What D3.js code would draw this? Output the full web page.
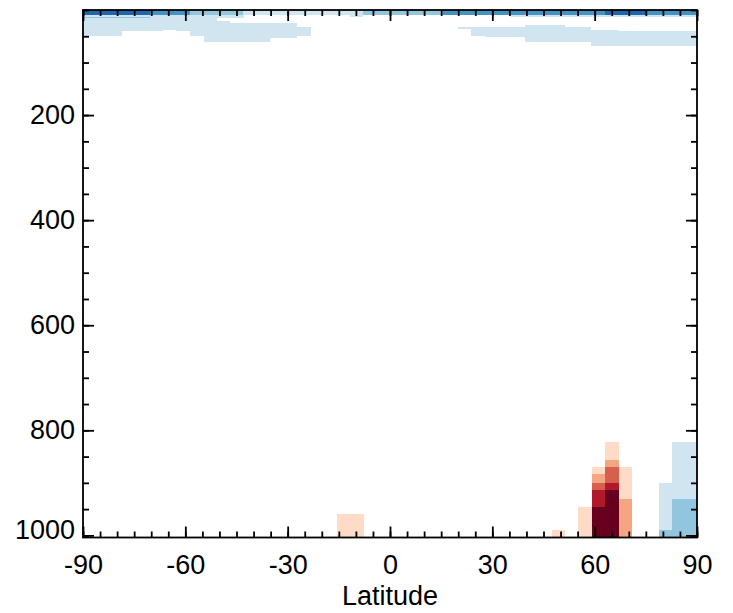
<!DOCTYPE html>
<html>
<head>
<meta charset="utf-8">
<script src="https://cdn.jsdelivr.net/npm/d3@7"></script>
<style>
  html, body { margin: 0; padding: 0; background: #fff; }
  svg { display: block; }
  text { font-family: "Liberation Sans", Arial, Helvetica, sans-serif; fill: #000; }
</style>
</head>
<body>
<svg id="chart" width="733" height="613"></svg>
<script>
// ---- data ----
const xTickValues = [-90, -60, -30, 0, 30, 60, 90];
const xMinorTicks = d3.range(-90, 91, 5);
const yTickValues = [200, 400, 600, 800, 1000];
const yMinorTicks = d3.range(0, 1001, 50);
const xTitle = "Latitude";
const latRange = [-90, 90];
const pressureRange = [0, 1004];

// class values (negative = blue, positive = red)
const classValues = [-4, -3, -2, -1, 1, 2, 3, 4, 5];
const classColors = ["#2166ac", "#4393c3", "#92c5de", "#d1e5f0", "#fddbc7", "#f4a582", "#d6604d", "#b2182b", "#67001f"];

// cells: [lat0, lat1, p0 (hPa), p1 (hPa), class]
const topBandCells = [
  [-90, -70.45, 0, 9.5, -4],
  [-70.45, -58.7, 0, 9.5, -3],
  [-58.7, -43.1, 0, 9.5, -2],
  [-43.1, -7.9, 0, 9.5, -1],
  [-7.9, 15.5, 0, 9.5, -2],
  [15.5, 62.9, 0, 9.5, -3],
  [62.9, 75.2, 0, 9.5, -4],
  [75.2, 90, 0, 9.5, -3]
];
const southStratCells = [
  [-90, -78.45, 9.5, 49, -1],
  [-78.45, -66.55, 9.5, 39.4, -1],
  [-66.55, -62.6, 9.5, 37.5, -1],
  [-62.6, -58.7, 9.5, 39.4, -1],
  [-58.7, -54.6, 9.5, 49, -1],
  [-54.6, -50.8, 9.5, 61.7, -1],
  [-50.8, -47, 9.5, 15.2, -1],
  [-50.8, -47, 21.7, 61.7, -1],
  [-47, -42.9, 9.5, 15.2, -1],
  [-47, -42.9, 25, 61.7, -1],
  [-42.9, -35.3, 25, 61.7, -1],
  [-35.3, -27.4, 25, 52.5, -1],
  [-27.4, -23.3, 32, 49.5, -1],
  [-11.8, -7.9, 9.5, 13.3, -1],
  [-90, -70.45, 13.3, 15.2, -2]
];
const northStratCells = [
  [19.9, 23.7, 32.4, 36.2, -1],
  [23.7, 27.8, 32.4, 49, -1],
  [27.8, 39.5, 32.4, 52.2, -1],
  [39.5, 51.2, 28, 61.7, -1],
  [51.2, 59.0, 32.4, 61.7, -1],
  [59.0, 66.8, 37.5, 69.3, -1],
  [66.8, 90, 39.4, 69.3, -1],
  [35.6, 90, 9.5, 13.3, -1]
];
const surfaceCells = [
  [-15.5, -7.7, 959, 1004, 1],
  [47.4, 51.2, 990, 1004, 1],
  [55.1, 59.1, 946, 1004, 1],
  [59.1, 63.0, 870.5, 882.7, 1],
  [59.1, 63.0, 882.7, 900.4, 2],
  [59.1, 63.0, 900.4, 913.7, 3],
  [59.1, 63.0, 913.7, 946, 4],
  [59.1, 63.0, 946, 1004, 5],
  [63.0, 67.1, 822, 857, 1],
  [63.0, 67.1, 857, 870.5, 2],
  [63.0, 67.1, 870.5, 900.4, 3],
  [63.0, 67.1, 900.4, 913.7, 4],
  [63.0, 67.1, 913.7, 1004, 5],
  [67.1, 70.9, 870.5, 931, 1],
  [67.1, 70.9, 931, 1004, 2],
  [79.0, 82.8, 900, 990, -1],
  [79.0, 82.8, 990, 1004, -2],
  [82.8, 90, 822, 931, -1],
  [82.8, 90, 931, 1004, -2]
];

// ---- layout ----
const plot = { left: 83, right: 697, top: 10, bottom: 537.5 };
const fontSize = 27;

const svg = d3.select("#chart");
const x = d3.scaleLinear().domain(latRange).range([plot.left, plot.right]);
const y = d3.scaleLinear().domain(pressureRange).range([plot.top, plot.bottom]);
const color = d3.scaleOrdinal().domain(classValues).range(classColors);

svg.append("defs").append("clipPath").attr("id", "clip")
  .append("rect")
  .attr("x", plot.left).attr("y", plot.top)
  .attr("width", plot.right - plot.left).attr("height", plot.bottom - plot.top);

const cells = [].concat(topBandCells, southStratCells, northStratCells, surfaceCells);
svg.append("g").attr("clip-path", "url(#clip)")
  .selectAll("rect").data(cells).join("rect")
  .attr("x", d => x(d[0]))
  .attr("y", d => y(d[2]))
  .attr("width", d => x(d[1]) - x(d[0]))
  .attr("height", d => y(d[3]) - y(d[2]))
  .attr("fill", d => color(d[4]))
  .attr("shape-rendering", "crispEdges");

const tickW = 1.8;
function styleAxis(g) {
  g.select(".domain").remove();
  g.selectAll(".tick line").attr("stroke", "#000").attr("stroke-width", tickW);
}
const plainFormat = d => String(d);

// minor ticks
svg.append("g").attr("transform", `translate(0,${plot.bottom})`)
  .call(d3.axisBottom(x).tickValues(xMinorTicks).tickSize(-6).tickFormat(""))
  .call(styleAxis);
svg.append("g").attr("transform", `translate(0,${plot.top})`)
  .call(d3.axisTop(x).tickValues(xMinorTicks).tickSize(-6).tickFormat(""))
  .call(styleAxis);
svg.append("g").attr("transform", `translate(${plot.left},0)`)
  .call(d3.axisLeft(y).tickValues(yMinorTicks).tickSize(-6).tickFormat(""))
  .call(styleAxis);
svg.append("g").attr("transform", `translate(${plot.right},0)`)
  .call(d3.axisRight(y).tickValues(yMinorTicks).tickSize(-6).tickFormat(""))
  .call(styleAxis);

// major ticks
const xAx = svg.append("g").attr("transform", `translate(0,${plot.bottom})`)
  .call(d3.axisBottom(x).tickValues(xTickValues).tickSize(-11).tickPadding(17).tickFormat(plainFormat))
  .call(styleAxis);
xAx.selectAll("text").attr("font-size", fontSize);

svg.append("g").attr("transform", `translate(0,${plot.top})`)
  .call(d3.axisTop(x).tickValues(xTickValues).tickSize(-11).tickFormat(""))
  .call(styleAxis);

const yAx = svg.append("g").attr("transform", `translate(${plot.left},0)`)
  .call(d3.axisLeft(y).tickValues(yTickValues).tickSize(-11).tickPadding(8).tickFormat(plainFormat))
  .call(styleAxis);
yAx.selectAll("text").attr("font-size", fontSize);
yAx.selectAll(".tick").filter(d => d === 1000).select("text").attr("dy", "0.11em");

svg.append("g").attr("transform", `translate(${plot.right},0)`)
  .call(d3.axisRight(y).tickValues(yTickValues).tickSize(-11).tickFormat(""))
  .call(styleAxis);

// frame
svg.append("rect")
  .attr("x", plot.left).attr("y", plot.top)
  .attr("width", plot.right - plot.left).attr("height", plot.bottom - plot.top)
  .attr("fill", "none").attr("stroke", "#000").attr("stroke-width", 1.8);

// x title
svg.append("text")
  .attr("x", (plot.left + plot.right) / 2)
  .attr("y", 604.5)
  .attr("text-anchor", "middle")
  .attr("font-size", fontSize)
  .text(xTitle);
</script>
</body>
</html>
